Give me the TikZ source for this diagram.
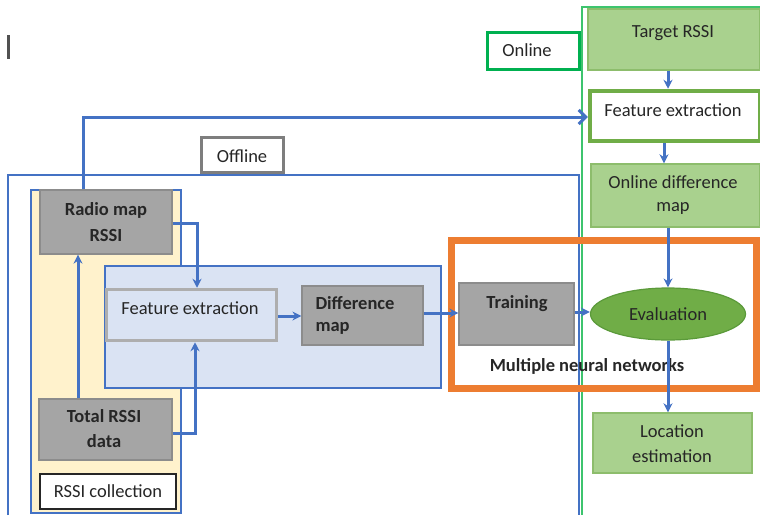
\documentclass[tikz,border=0pt]{standalone}
\usepackage{fontspec}
\setmainfont{Carlito}
\usetikzlibrary{arrows.meta,fit,shapes.geometric}
\definecolor{flowblue}{HTML}{4472C4}
\definecolor{panelblue}{HTML}{DAE3F3}
\definecolor{boxgray}{HTML}{A5A5A5}
\definecolor{edgegray}{HTML}{8C8C8C}
\definecolor{panelyellow}{HTML}{FFF2CC}
\definecolor{lightgreen}{HTML}{A9D18E}
\definecolor{midgreen}{HTML}{70AD47}
\definecolor{darkgreen}{HTML}{5B9A3A}
\definecolor{onlinegreen}{HTML}{00B050}
\definecolor{framegreen}{HTML}{3DC46E}
\definecolor{hlorange}{HTML}{ED7D31}
\definecolor{inkgray}{HTML}{262626}
\tikzset{
  every node/.style={font=\fontsize{18.5}{22}\selectfont, text=inkgray},
  area/.style={inner sep=0pt, rectangle},
  graybox/.style={area, fill=boxgray, draw=edgegray, line width=1.2pt},
  greenbox/.style={area, fill=lightgreen, draw=midgreen!80, line width=1.4pt},
  linkarrow/.style={draw=flowblue, line width=3pt, arrows={-Stealth[length=9pt,width=9pt]}},
  boldtxt/.style={font=\fontsize{18.5}{22}\selectfont\bfseries},
}
\begin{document}
\begin{tikzpicture}[x=1pt,y=-1pt]
\useasboundingbox (0,0) rectangle (760,515);

% cursor bar
\draw[inkgray!80, line width=2.2pt] (8.5,35) -- (8.5,59);

% online frame (green) and offline frame (blue)
\draw[framegreen, line width=2pt] (760,7) -- (581.5,7) -- (581.5,515);
\draw[flowblue, line width=1.6pt] (8,515) -- (8,175) -- (579,175) -- (579,515);

% RSSI collection panel
\node[area, fill=panelyellow, draw=flowblue, line width=1.5pt, fit={(31,190) (181,513)}] (collect) {};
% feature/difference panel
\node[area, fill=panelblue, draw=flowblue, line width=1.5pt, fit={(105,266) (441,388)}] (fpanel) {};

% offline boxes
\node[graybox, fit={(40,190) (172,254)}] (radio) {};
\node[boldtxt] (radiot1) at (106,210) {Radio map};
\node[boldtxt] (radiot2) at (106,235) {RSSI};

\node[graybox, fit={(39,399) (172,460)}] (total) {};
\node[boldtxt] (totalt1) at (104,416) {Total RSSI};
\node[boldtxt] (totalt2) at (104,441) {data};

\node[area, fill=white, draw=inkgray, line width=1.5pt, fit={(40,474) (176,509)}] (collectlbl) {};
\node (collectt) at (108,491) {RSSI collection};

\node[area, fill=white, draw=edgegray!90!black, line width=3.5pt, fit={(201.5,137.5) (283.5,172.5)}] (offlbl) {};
\node (offt) at (242,156) {Offline};

\node[area, fill=panelblue, draw=boxgray!90, line width=3.5pt, fit={(106.5,289.5) (276.5,340.5)}] (fexoff) {};
\node (fexofft) at (190,308) {Feature extraction};

\node[graybox, fit={(302,286) (423,345)}] (diff) {};
\node[boldtxt, anchor=west] (difft1) at (312,303) {Difference};
\node[boldtxt, anchor=west] (difft2) at (312,328) {map};

% neural network highlight
\node[area, draw=hlorange, line width=7pt, fit={(451.5,240.5) (756.5,388.5)}] (nn) {};
\node[graybox, fit={(459,283) (574,345)}] (train) {};
\node[boldtxt] (traint) at (517,304) {Training};
\node[boldtxt] (nnt) at (587,366) {Multiple neural networks};

% online boxes
\node[area, fill=white, draw=onlinegreen, line width=3.2pt, fit={(487.5,32.5) (579.5,69.5)}] (onlbl) {};
\node (ont) at (527,50) {Online};

\node[greenbox, fit={(588,9) (760,70)}] (target) {};
\node (targett) at (673,33) {Target RSSI};

\node[area, fill=white, draw=midgreen, line width=4.5pt, fit={(590,91) (760,141)}] (fexon) {};
\node (fexont) at (673,110) {Feature extraction};

\node[greenbox, fit={(591,164) (760,227)}] (ondiff) {};
\node (ondifft1) at (673,182) {Online difference};
\node (ondifft2) at (673,208) {map};

\node[ellipse, fill=midgreen, draw=darkgreen, line width=1.2pt, minimum width=155pt, minimum height=52pt, inner sep=0pt] (eval) at (668,314) {};
\node (evalt) at (668,314) {Evaluation};

\node[greenbox, fit={(593,413) (752,473)}] (loc) {};
\node (loct1) at (672,431) {Location};
\node (loct2) at (672,456) {estimation};

% connectors
\draw[linkarrow] (total.north -| 78,0) -- (radio.south -| 78,0);
\draw[linkarrow] (radio.east |- 0,223) -- (197,223) -- (fexoff.north -| 197,0);
\draw[linkarrow] (total.east |- 0,433) -- (195,433) -- (fexoff.south -| 195,0);
\draw[linkarrow] (fexoff.east |- 0,316) -- (diff.west |- 0,316);
\draw[linkarrow] (diff.east |- 0,313) -- (train.west |- 0,313);
\draw[linkarrow] (train.east |- 0,312) -- (eval.west |- 0,312);
\draw[draw=flowblue, line width=3pt, arrows={-Straight Barb[length=7pt,width=14pt]}]
  (radio.north -| 83,0) -- (83,117) -- (fexon.west |- 0,117);
\draw[linkarrow] (target.south -| 668,0) -- (fexon.north -| 668,0);
\draw[linkarrow] (fexon.south -| 664,0) -- (ondiff.north -| 664,0);
\draw[linkarrow] (ondiff.south -| 668,0) -- (eval.north);
\draw[linkarrow] (eval.south) -- (loc.north -| 668,0);
\end{tikzpicture}
\end{document}
